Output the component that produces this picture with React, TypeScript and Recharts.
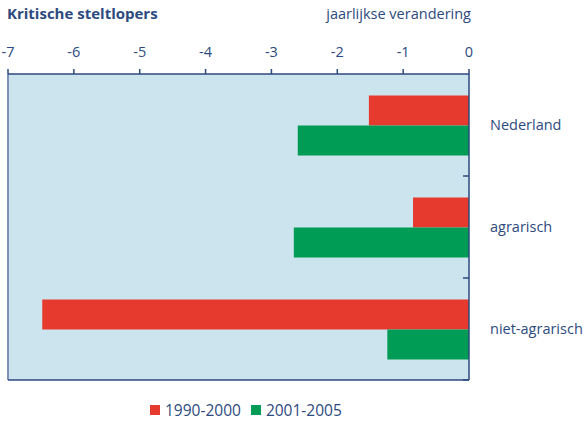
import React from "react";
import { BarChart, Bar, XAxis, YAxis, CartesianGrid, ReferenceLine } from "recharts";

// Categories and yearly change per period
const categories = ["Nederland", "agrarisch", "niet-agrarisch"];
const period1 = [-1.52, -0.85, -6.48]; // 1990-2000
const period2 = [-2.6, -2.66, -1.24]; // 2001-2005
const xTicks = [-7, -6, -5, -4, -3, -2, -1, 0];

const data = categories.map((name, i) => ({
  name,
  p1: period1[i],
  p2: period2[i],
}));

const TEXT = "#2d4a7e";
const RED = "#e63a2f";
const GREEN = "#009b55";
const BG = "#cbe4ed";
const FONT = "'Open Sans', sans-serif";

const W = 584;
const H = 423;
const MARGIN = { top: 0, right: 0, bottom: 42, left: 7 };
const RIGHT_AXIS_W = 115;
const TOP_AXIS_H = 74;
const BAND_HALF = (H - TOP_AXIS_H - MARGIN.bottom - 1) / categories.length / 2;

// Category label at band centre, small inward tick at the band's lower edge
const RightTick = (props: any) => {
  const { x, y, payload } = props;
  const half = payload && payload.offset ? payload.offset : BAND_HALF;
  const axisX = x - 21;
  return (
    <g>
      <line x1={axisX - 6} x2={axisX} y1={y + half} y2={y + half} stroke={TEXT} strokeWidth={1.5} />
      <text x={x} y={y} dy={5} textAnchor="start" fill={TEXT} fontSize={14.5} fontFamily={FONT}>
        {payload.value}
      </text>
    </g>
  );
};

export default function App() {
  return (
    <div style={{ position: "absolute", left: 0, top: 0, width: W, height: H, background: "#fff", fontFamily: FONT }}>
      <div style={{ position: "absolute", left: 7, top: 3, fontSize: 15, fontWeight: 700, color: TEXT }}>
        Kritische steltlopers
      </div>
      <div style={{ position: "absolute", right: W - 471, top: 4, fontSize: 14.5, color: TEXT }}>
        jaarlijkse verandering
      </div>
      <BarChart
        width={W}
        height={H}
        data={data}
        layout="vertical"
        margin={MARGIN}
        barCategoryGap="21%"
        barGap={0}
      >
        <CartesianGrid fill={BG} horizontal={false} vertical={false} />
        <XAxis
          type="number"
          orientation="top"
          domain={[-7, 0]}
          ticks={xTicks}
          height={TOP_AXIS_H}
          tickSize={5}
          tickMargin={12}
          interval={0}
          allowDataOverflow
          stroke={TEXT}
          strokeWidth={1.5}
          tick={{ fill: TEXT, fontSize: 14.5, fontFamily: FONT }}
        />
        <XAxis
          xAxisId="bottom"
          type="number"
          orientation="bottom"
          domain={[-7, 0]}
          height={1}
          tick={false}
          tickLine={false}
          stroke={TEXT}
          strokeWidth={1.5}
        />
        <YAxis
          type="category"
          dataKey="name"
          orientation="right"
          width={RIGHT_AXIS_W}
          tickLine={false}
          tickSize={0}
          tickMargin={21}
          interval={0}
          stroke={TEXT}
          strokeWidth={1.5}
          tick={<RightTick />}
        />
        <YAxis
          yAxisId="left"
          type="category"
          dataKey="name"
          orientation="left"
          width={1}
          tick={false}
          tickLine={false}
          axisLine={false}
        />
        <ReferenceLine x={-7} stroke="#8090b8" strokeWidth={2} />
        <Bar dataKey="p1" name="1990-2000" fill={RED} isAnimationActive={false} />
        <Bar dataKey="p2" name="2001-2005" fill={GREEN} isAnimationActive={false} />
      </BarChart>
      <div
        style={{
          position: "absolute",
          left: 150,
          top: 401,
          display: "flex",
          alignItems: "center",
          fontSize: 15.5,
          color: TEXT,
          lineHeight: "18px",
        }}
      >
        <span style={{ width: 10, height: 10, background: RED, display: "inline-block", marginRight: 5 }} />
        <span style={{ marginRight: 10 }}>1990-2000</span>
        <span style={{ width: 10, height: 10, background: GREEN, display: "inline-block", marginRight: 5 }} />
        <span>2001-2005</span>
      </div>
    </div>
  );
}
